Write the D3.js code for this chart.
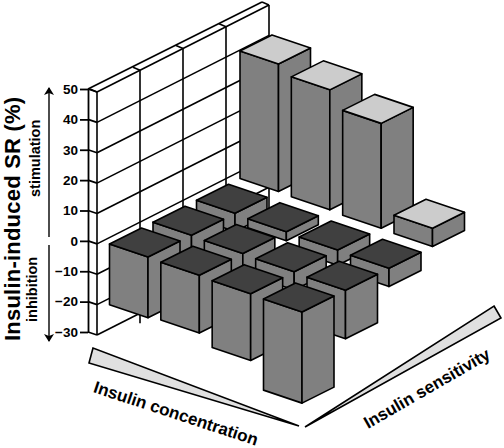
<!DOCTYPE html>
<html>
<head>
<meta charset="utf-8">
<script src="https://cdn.jsdelivr.net/npm/d3@7"></script>
<style>
  html, body { margin: 0; padding: 0; background: #fff; }
  text { font-family: "Liberation Sans", Arial, sans-serif; fill: #000; }
</style>
</head>
<body>
<div id="chart"></div>
<script>
// Data
var concentrationLevels = [0, 1, 2, 3];
var sensitivityLevels = [0, 1, 2, 3];
var row0 = [-20, -7, -6, 42];
var row1 = [-19, -7, -3, 39.5];
var row2 = [-22, -6, -5, 34.5];
var row3 = [-30, -16, -6, 6];
var valueRows = [row0, row1, row2, row3];
var zTicks = [-30, -20, -10, 0, 10, 20, 30, 40, 50];
var wallSteps = [0, 1, 2, 3, 4];

var width = 504, height = 448;

var svg = d3.select("#chart").append("svg")
  .attr("width", width)
  .attr("height", height)
  .style("display", "block");

// Scales: vertical value, and the two floor directions
var z = d3.scaleLinear().domain([-30, 50]).range([332, 89]);
var rowX = d3.scaleLinear().domain([0, 3]).range([0, 154]);
var rowY = d3.scaleLinear().domain([0, 3]).range([0, 55]);
var colX = d3.scaleLinear().domain([0, 3]).range([0, 130.5]);
var colY = d3.scaleLinear().domain([0, 3]).range([0, -65.5]);
var wallX = d3.scaleLinear().domain([0, 4]).range([97, 269]);
var wallY = d3.scaleLinear().domain([0, 4]).range([0, -87]);

// Corner offsets of one bar, from its front corner
var front = {x: 148, y: 257};
var leftOff = {x: -38.5, y: -13};
var rightOff = {x: 32, y: -16};

var grayFace = "#808080", darkTop = "#404040", lightTop = "#cccccc", wedgeFill = "#e0e0e0";
var lineWidth = 1.6;

// Wall
var wall = svg.append("g")
  .attr("fill", "none")
  .attr("stroke", "#000")
  .attr("stroke-width", lineWidth);

zTicks.forEach(function(t) {
  wall.append("line")
    .attr("x1", 88).attr("y1", z(t))
    .attr("x2", wallX(0)).attr("y2", z(t) + 3);
  wall.append("line")
    .attr("x1", wallX(0)).attr("y1", z(t) + 3)
    .attr("x2", wallX(4)).attr("y2", z(t) + 3 + wallY(4));
});

wallSteps.forEach(function(s) {
  var overshoot = s > 0 ? 10 : 0;
  wall.append("line")
    .attr("x1", wallX(s)).attr("y1", z(50) + 3 + wallY(s))
    .attr("x2", wallX(s)).attr("y2", z(-30) + 3 + wallY(s) + overshoot);
  wall.append("line")
    .attr("x1", wallX(s)).attr("y1", z(50) + 3 + wallY(s))
    .attr("x2", wallX(s) - 7).attr("y2", z(50) + wallY(s));
});

wall.append("line")
  .attr("x1", 88).attr("y1", z(50))
  .attr("x2", wallX(4) - 7).attr("y2", z(50) + wallY(4));

// Bars, back row first
concentrationLevels.forEach(function(r) {
  sensitivityLevels.slice().reverse().forEach(function(c) {
    var v = valueRows[r][c];
    var fx = front.x + rowX(r) + colX(c);
    var fy = front.y + rowY(r) + colY(c);
    var dTop = v > 0 ? z(v) - z(0) : 0;
    var dBottom = v > 0 ? 0 : z(v) - z(0);
    var topY = fy + dTop, botY = fy + dBottom;

    function poly(pts, fill) {
      svg.append("polygon")
        .attr("points", pts.map(function(p) { return p.join(","); }).join(" "))
        .attr("fill", fill)
        .attr("stroke", "#000")
        .attr("stroke-width", lineWidth)
        .attr("stroke-linejoin", "round");
    }

    poly([[fx + leftOff.x, topY + leftOff.y], [fx, topY], [fx, botY], [fx + leftOff.x, botY + leftOff.y]], grayFace);
    poly([[fx, topY], [fx + rightOff.x, topY + rightOff.y], [fx + rightOff.x, botY + rightOff.y], [fx, botY]], grayFace);
    poly([[fx, topY], [fx + leftOff.x, topY + leftOff.y],
          [fx + leftOff.x + rightOff.x, topY + leftOff.y + rightOff.y],
          [fx + rightOff.x, topY + rightOff.y]], v > 0 ? lightTop : darkTop);
  });
});

// Value axis
var axis = svg.append("g")
  .attr("transform", "translate(88,0)")
  .call(d3.axisLeft(z).tickValues(zTicks).tickSize(8).tickSizeOuter(0).tickPadding(2).tickFormat(d3.format("d")));
axis.selectAll("path, line").attr("stroke", "#000").attr("stroke-width", 1.8);
axis.selectAll("text")
  .style("font-size", "13.5px")
  .style("font-weight", "bold")
  .attr("fill", "#000");

// Arrows beside the axis
var defs = svg.append("defs");
defs.append("marker")
  .attr("id", "head")
  .attr("viewBox", "0 0 8 10")
  .attr("refX", 7).attr("refY", 5)
  .attr("markerWidth", 8).attr("markerHeight", 10)
  .attr("markerUnits", "userSpaceOnUse")
  .attr("orient", "auto")
  .append("path")
  .attr("d", "M0,0 L8,5 L0,10 L2,5 Z")
  .attr("fill", "#000");

svg.append("line")
  .attr("x1", 49).attr("y1", 237).attr("x2", 49).attr("y2", 88)
  .attr("stroke", "#000").attr("stroke-width", 1.4).attr("marker-end", "url(#head)");
svg.append("line")
  .attr("x1", 49).attr("y1", 245).attr("x2", 49).attr("y2", 341)
  .attr("stroke", "#000").attr("stroke-width", 1.4).attr("marker-end", "url(#head)");

// Wedges
var wedgeLeft = [[93, 348], [89, 363], [299, 426]];
var wedgeRight = [[494, 306], [501, 318], [305, 427]];
[wedgeLeft, wedgeRight].forEach(function(w) {
  svg.append("polygon")
    .attr("points", w.map(function(p) { return p.join(","); }).join(" "))
    .attr("fill", wedgeFill)
    .attr("stroke", "#000")
    .attr("stroke-width", lineWidth);
});

// Text labels
function label(txt, x, y, angle, size, weight, spacing) {
  svg.append("text")
    .attr("transform", "translate(" + x + "," + y + ") rotate(" + angle + ")")
    .style("font-size", size + "px")
    .style("font-weight", weight)
    .style("letter-spacing", (spacing || 0) + "px")
    .text(txt);
}

label("Insulin-induced SR (%)", 20, 341, -90, 22, "bold", 0.22);
label("stimulation", 40, 197, -90, 14.5, "bold");
label("inhibition", 37, 322, -90, 14.5, "bold");
label("Insulin concentration", 92.5, 392, 18.2, 17, "bold");
label("Insulin sensitivity", 368, 429, -30, 17, "bold");
</script>
</body>
</html>
